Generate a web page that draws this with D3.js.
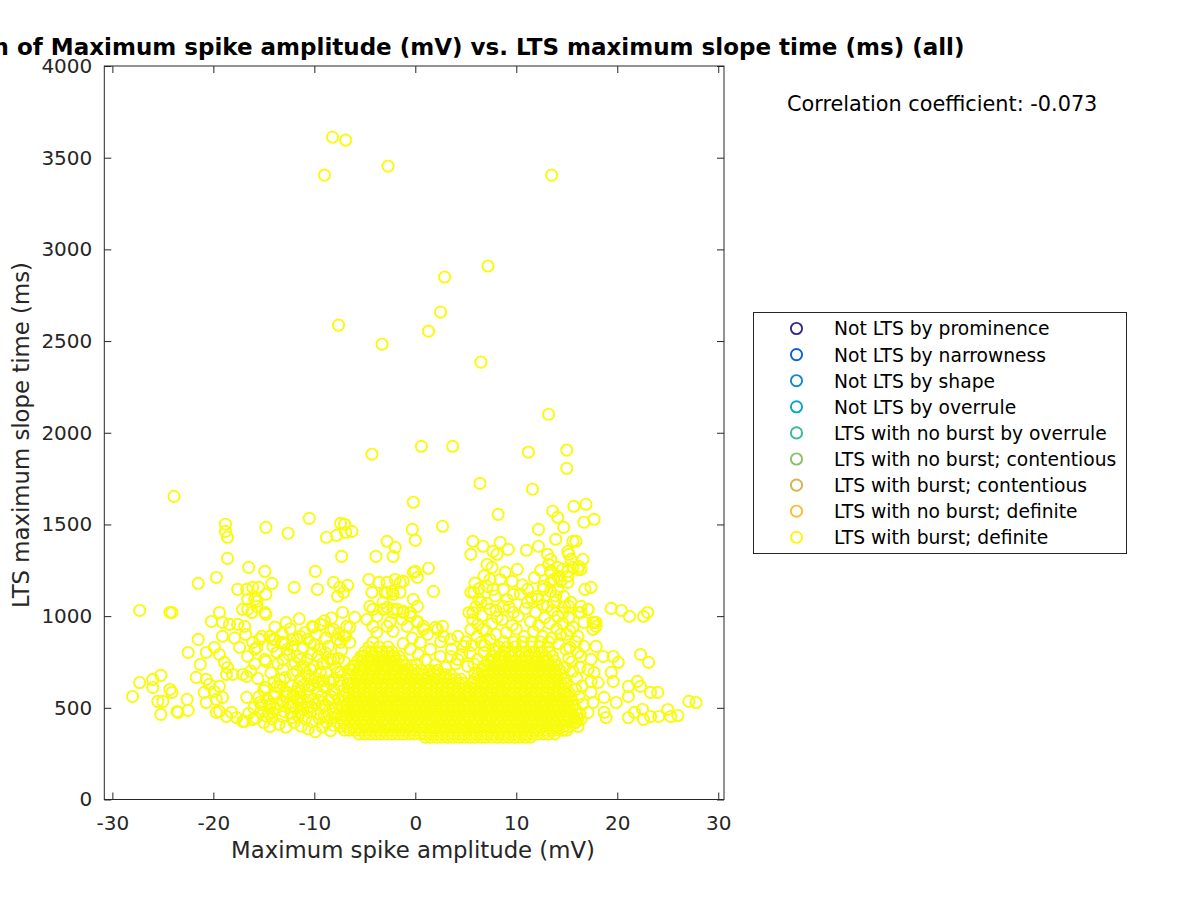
<!DOCTYPE html>
<html><head><meta charset="utf-8">
<script src="https://cdn.jsdelivr.net/npm/d3@7"></script>
<style>
body{margin:0;background:#fff}
text{font-family:"DejaVu Sans",sans-serif;fill:#262626}
</style></head>
<body><svg id="chart" width="1200" height="900"></svg>
<script>
// ---------- data ----------
const categories = ["Not LTS by prominence","Not LTS by narrowness","Not LTS by shape","Not LTS by overrule",
  "LTS with no burst by overrule","LTS with no burst; contentious","LTS with burst; contentious",
  "LTS with no burst; definite","LTS with burst; definite"];
const categoryColors = ["#352a87","#0b5fdc","#1485d4","#06a7c6","#38b99e","#8cbf6c","#d4b450","#fbbd36","#f9fb0e"];
const xTicks = [-30,-20,-10,0,10,20,30];
const yTicks = [0,500,1000,1500,2000,2500,3000,3500,4000];
const correlationText = "Correlation coefficient: -0.073";

// individually read points [amplitude (mV), LTS max slope time (ms)]
const scatterPoints = [
[-8.2,3612],[-6.9,3596],[-9.0,3405],[-2.7,3454],[13.5,3405],
[7.2,2909],[2.9,2849],[-7.6,2587],[2.5,2658],[1.3,2554],[-3.3,2483],[6.5,2385],
[13.2,2101],[15.0,1905],[15.0,1806],[11.2,1894],[-4.3,1883],[0.6,1926],[3.7,1926],
[6.4,1724],[11.6,1692],[-23.9,1653],[-0.2,1621],[15.7,1599],[16.9,1610],[16.7,1512],[17.7,1528],
[-10.5,1533],[-18.8,1501],[-18.8,1462],[-18.6,1430],[-14.8,1484],[-12.6,1452],[-8.8,1430],
[-7.4,1506],[-7.0,1501],[-7.8,1441],[-6.9,1457],[-6.3,1462],[2.7,1490],[8.2,1555],
[-0.3,1473],[0.0,1413],[-7.3,1326],[-3.9,1326],[-2.2,1326],[-2.8,1408],[-2.0,1375],
[-18.6,1315],[-16.5,1266],[-14.9,1244],[-21.5,1179],[-19.7,1211],
[-17.6,1146],[-16.7,1146],[-15.5,1157],[-14.2,1179],[-14.8,1119],[-12.0,1157],[-9.7,1146],[-9.9,1244],
[-27.3,1031],[-24.3,1020],[-24.1,1020],
[-8.1,1184],[-7.5,1157],[-6.7,1168],[-7.7,1108],[-7.1,1130],[-7.2,1020],
[-4.6,1200],[-3.6,1184],[-2.8,1184],[-2.0,1200],[-1.5,1184],[-2.2,1119],[-2.8,1130],[-1.2,1190],[-1.5,1130],[-2.3,1135],
[-0.2,1091],[0.0,1244],[-0.2,1239],[1.3,1261],[0.2,1211],[1.8,1135],
[-4.2,1037],[-3.2,1037],[-1.8,1037],[-4.3,1130],[-3.0,1130],[-2.8,1048],[-2.2,1020],[-1.2,1026],[-0.5,999],[0.2,971],[0.8,944],[2.0,939],[2.7,944],
[-16.6,1091],[-15.9,1091],[-17.1,1037],[-16.6,1037],[-15.7,1053],[-14.9,1020],[-14.8,1010],
[-20.2,971],[-19.4,1020],[-19.1,966],[-18.4,955],[-17.6,955],[-16.9,944],[-19.1,890],[-21.5,873],[-22.5,802],[-21.3,737],[-21.7,666],
[-20.7,802],[-19.9,829],[-19.4,791],[-18.9,748],[-18.6,720],[-18.7,682],[-18.1,682],[-17.1,682],
[-27.3,638],[-26.0,655],[-25.2,677],[-26.0,611],[-28.0,562],
[-24.3,600],[-24.1,584],[-25.5,535],[-25.0,535],[-25.2,464],[-23.6,480],[-23.5,475],[-22.6,546],[-22.5,486],
[-20.7,655],[-20.4,628],[-20.9,584],[-20.7,529],[-19.9,589],[-19.4,617],[-19.7,546],[-19.1,557],[-19.4,480],[-18.7,453],[-19.7,475],[-18.2,475],[-17.7,447],[-16.9,426],[-16.7,557],[-16.7,671],
[-16.1,857],[-15.9,819],[-15.2,890],[-14.4,890],[-14.1,873],
[-14.8,753],[-14.8,611],[-15.2,518],[-14.4,518],
[-16.1,437],[-17.1,426],[-14.7,453],[-14.4,398],
[-13.7,802],[-13.2,857],[-12.7,819],[-12.1,873],[-11.4,890],[-10.7,873],[-10.1,939],[-9.4,955],
[-11.4,764],[-11.1,726],[-10.6,671],[-10.1,726],[-9.6,780],[-8.7,748],[-8.1,764],[-7.4,857],[-7.1,890],[-6.5,857],[-6.8,944],[-6.0,993],[-8.1,928],
[-13.4,617],[-12.7,562],[-12.1,508],[-14.1,475],[-13.2,453],[-12.2,447],[-11.4,475],[-10.7,502],[-10.1,546],[-11.4,589],
[-8.4,638],[-7.7,693],[-7.0,748],[-6.2,726],[-5.2,780],[-4.2,857],[-3.8,911],[-2.8,944],[-2.2,917],[-1.3,982],[-0.5,1020],[0.2,1053],
[5.7,1408],[6.7,1381],[8.4,1402],[9.2,1364],[7.7,1353],[8.1,1337],[5.5,1337],
[11.0,1359],[12.2,1473],[12.2,1381],[13.9,1419],[13.6,1572],[14.1,1539],[14.7,1484],[15.6,1408],[15.9,1408],[15.1,1353],[15.2,1337],
[7.1,1282],[7.6,1266],[10.1,1255],[7.4,1200],[8.4,1200],
[13.1,1337],[13.4,1310],[13.2,1282],[13.4,1244],[14.1,1217],[13.7,1200],[14.6,1255],[15.1,1244],[15.6,1266],[16.2,1271],[16.6,1310],[16.4,1255],[15.4,1310],[17.4,1157],
[5.8,1130],[6.3,1091],[5.3,1020],[7.1,1162],[7.7,1146],[8.7,1146],[9.7,1119],[11.1,1146],
[12.1,1108],[12.7,1162],[13.4,1135],[14.1,1146],[13.7,1075],[14.7,1108],[15.2,1053],[16.4,1053],[17.1,1037],[17.7,966],[14.6,1020],
[13.4,1184],[14.4,1190],[15.1,1184],
[19.4,1042],[20.4,1031],[21.2,999],[22.6,999],[23.0,1020],[22.3,791],[23.1,748],
[17.9,966],[17.6,928],[17.9,835],[18.6,780],[19.6,780],[20.1,748],[19.4,693],[19.6,644],[21.1,617],[22.0,644],[22.3,617],[23.3,584],[24.0,584],[21.1,562],[18.7,557],[19.9,529],[18.7,475],[18.9,447],[21.1,447],[21.7,475],[22.5,491],[22.6,437],[23.3,453],[24.1,453],[25.0,491],[25.3,453],[26.0,458],[27.1,535],[27.8,529],
[16.4,1020],[17.1,1037],[17.6,966],[17.9,944],[16.7,966],[16.1,890],[16.7,835],[16.4,780],[17.4,764],[17.1,709],[17.7,693],[17.4,644],[18.1,638],[17.4,584],[17.6,529],[17.1,475],[16.4,437],[16.1,398],
[-16.1,1157],[-15.7,1080],[-16.2,1020],
[5.5,1130],[5.7,1020],[6.5,1075],[7.4,1037],[6.2,955],[6.7,928],[8.1,993],[8.7,1053],[9.7,1020],[11.1,1075],[12.1,1091],[12.7,1146],[13.4,1239],[14.1,1266],[15.1,1217],[16.1,1255],[16.8,1146],[13.1,1053],[14.1,999],[15.4,1075],[16.2,1020],
[-15.4,873],[-14.4,890],[-13.9,873],[-15.7,829],[-14.9,764],[-13.7,802],[-13.1,764],[-12.2,835],[-11.7,873],[-10.9,911],[-10.2,944],[-9.4,955],[-8.4,917],[-7.7,873],[-6.9,890],[-6.5,939],[-10.4,857],[-9.4,819],[-11.7,780],[-10.7,764],[-13.1,709],[-12.1,682],[-13.4,655],[-11.4,655],[-13.7,617],[-12.7,584],[-14.9,611],[-15.4,529],[-14.4,508],[-13.1,529],[-11.7,546],[-10.7,529],[-9.7,584],[-9.1,617],[-8.1,655],[-7.4,693],[-6.5,709],[-9.4,693],[-8.4,764],[-10.4,709],
[-4.5,1053],[-3.2,1075],[-2.2,1037],[-1.2,1020],[-3.8,999],[-2.5,966],[-0.8,944],[0.2,966],[0.8,928],[2.2,928],[2.8,890],[3.5,873],[4.2,890],[4.8,835],[-4.8,982],[-4.2,944],
[0.5,857],[1.5,819],[2.5,780],[3.5,780],[4.2,764],[5.2,726],[6.2,764],[6.8,802],[6.5,857],[5.5,928],[7.4,873],
[-16.5,470],[-15.8,445],[-15.0,420],[-14.2,440],[-13.5,410],[-12.8,395],[-12.0,420],[-11.3,400],[-10.6,385],[-9.9,370],[-9.2,395],[-8.4,375],
[-16.0,500],[-15.3,480],[-14.5,470],[-13.8,495],[-13.0,480],[-12.3,470],[-11.6,455],[-10.9,440],[-10.2,425],[-9.5,440],[-8.8,420],[-8.1,405],
[-15.5,560],[-14.7,545],[-14.0,560],[-13.2,540],[-12.5,525],[-11.8,500],[-11.1,490],[-10.4,475],[-9.7,470],[-9.0,455],[-8.3,445],
[-12.9,590],[-12.1,570],[-11.4,560],[-10.6,600],[-9.9,520],[-9.2,510],[-8.5,490],[-7.9,470],[-8.6,540],[-9.3,565],[-8.0,580],[-8.8,610],[-9.6,640],[-10.3,660],[-11.0,625],
[15.8,420],[16.3,470],[16.6,520],[16.2,560],[15.9,600],[16.5,620],[16.0,660],[15.6,700],[16.3,720],[15.5,750],[16.1,800],[15.3,830],[15.9,860],[15.0,900],[15.6,940],[14.6,960],[15.2,990],
[1.0,760],[2.0,735],[3.0,720],[4.0,740],[0.3,790],[1.8,700],[3.6,820],[4.6,790],[5.0,860],[2.5,860],[1.2,900],[-0.3,880],[-1.2,850],[-0.5,820],[0.2,740],[5.4,800],[5.8,740],[5.9,690],
[-13.9,940],[-12.8,965],[-11.5,985],[-9.0,975],[-8.3,990],[-13.2,905],[-12.4,930],[-9.8,900],[-8.9,880],[-7.6,905],[-14.1,835],[-12.9,850],[-11.1,830],[-10.0,845],[-8.6,835],[-7.3,815],
[-13.6,740],[-12.5,790],[-11.9,745],[-10.3,795],[-9.2,740],[-8.9,800],[-7.6,770],[-14.3,690],[-12.9,665],[-11.7,700],[-10.8,690],[-9.9,660],[-8.8,690],[-7.9,720],[-7.5,650],
[-14.0,640],[-12.2,620],[-11.6,615],[-10.2,625],[-9.1,650],[-8.1,600],[-7.4,620],[-13.8,580],[-11.8,590],[-10.6,560],[-9.5,540],[-8.3,560],[-7.6,545],
[-13.7,520],[-12.4,505],[-11.3,520],[-10.3,505],[-8.9,515],[-7.9,500],[-15.0,595],[-15.6,660],[-16.3,700],[-15.9,740],[-16.6,780],[-17.4,830],[-17.9,880],[-16.8,900],
[5.9,1180],[6.8,1220],[8.9,1240],[9.6,1190],[10.6,1170],[11.8,1210],[12.4,1250],[6.3,1150],[7.9,1110],[9.1,1090],[10.4,1120],[11.5,1100],[12.6,1060],[13.9,1110],
[6.0,1050],[7.1,1070],[8.0,1030],[9.3,1050],[10.2,1000],[10.9,1040],[11.9,1020],[12.8,990],[13.6,1030],[14.8,1050],
[5.7,980],[6.6,1000],[7.6,960],[8.6,980],[9.6,950],[11.4,970],[12.2,950],[13.3,960],[14.0,930],[15.3,920],
[6.1,890],[7.0,920],[8.0,900],[9.0,910],[10.0,930],[10.8,890],[11.7,915],[12.6,890],[13.5,880],[14.4,900],
[5.6,840],[6.9,840],[7.7,820],[14.2,850],[14.9,820],[15.2,770],[14.8,720]
];

// saturated core of the cloud, read row by row: [LTS max slope time (ms), amplitudes (mV)]
const denseRows = [
[340,[1.0,1.5,2.1,2.6,3.2,3.7,4.3,4.8,5.4,5.9,6.5,7.0,7.6,8.1,8.7,9.2,9.8,10.3,10.9,11.4]],
[358,[-5.6,-5.0,-4.5,-3.9,-3.4,-2.8,-2.3,-1.7,-1.2,-0.6,-0.1,0.5,1.0,1.6,2.2,2.7,3.3,3.8,4.4,4.9,5.5,6.0,6.6,7.1,7.7,8.3,8.8,9.4,9.9,10.5,11.0,11.6,12.1,12.7,13.2,13.8]],
[378,[-7.0,-6.5,-5.9,-5.4,-4.8,-4.3,-3.7,-3.2,-2.6,-2.1,-1.5,-1.0,-0.4,0.1,0.7,1.3,1.8,2.4,2.9,3.5,4.0,4.6,5.1,5.7,6.2,6.8,7.4,7.9,8.5,9.0,9.6,10.1,10.7,11.2,11.8,12.3,12.9,13.5,14.0,14.6,15.0]],
[398,[-7.4,-6.8,-6.2,-5.7,-5.1,-4.6,-4.0,-3.5,-2.9,-2.4,-1.8,-1.3,-0.7,-0.2,0.4,0.9,1.5,2.0,2.6,3.1,3.7,4.2,4.8,5.3,5.9,6.4,7.0,7.5,8.1,8.6,9.2,9.7,10.3,10.8,11.4,11.9,12.5,13.0,13.6,14.1,14.7,15.2]],
[420,[-7.7,-7.1,-6.5,-6.0,-5.4,-4.9,-4.3,-3.8,-3.2,-2.7,-2.1,-1.6,-1.0,-0.5,0.1,0.6,1.2,1.7,2.3,2.8,3.4,3.9,4.5,5.0,5.6,6.1,6.7,7.2,7.8,8.3,8.9,9.4,10.0,10.5,11.1,11.6,12.2,12.7,13.3,13.8,14.4,14.9,15.5,15.9]],
[442,[-7.4,-6.8,-6.3,-5.7,-5.2,-4.6,-4.1,-3.5,-3.0,-2.4,-1.9,-1.3,-0.8,-0.2,0.3,0.9,1.4,2.0,2.5,3.1,3.6,4.2,4.7,5.3,5.8,6.4,6.9,7.5,8.0,8.6,9.1,9.7,10.2,10.8,11.3,11.9,12.4,13.0,13.5,14.1,14.6,15.2,15.7,16.1]],
[465,[-7.6,-7.0,-6.5,-5.9,-5.4,-4.8,-4.3,-3.7,-3.2,-2.6,-2.1,-1.5,-1.0,-0.4,0.1,0.7,1.2,1.8,2.3,2.9,3.4,4.0,4.5,5.1,5.6,6.2,6.7,7.3,7.8,8.4,8.9,9.5,10.0,10.6,11.1,11.7,12.2,12.8,13.3,13.9,14.4,15.0,15.5,16.0]],
[488,[-7.2,-6.7,-6.1,-5.6,-5.0,-4.5,-3.9,-3.4,-2.8,-2.3,-1.7,-1.2,-0.6,-0.1,0.5,1.0,1.6,2.1,2.7,3.2,3.8,4.3,4.9,5.4,6.0,6.5,7.1,7.6,8.2,8.7,9.3,9.8,10.4,10.9,11.5,12.0,12.6,13.1,13.7,14.2,14.8,15.3,15.9]],
[512,[-7.3,-6.8,-6.2,-5.7,-5.1,-4.6,-4.0,-3.5,-2.9,-2.4,-1.8,-1.3,-0.7,-0.2,0.4,0.9,1.5,2.0,2.6,3.1,3.7,4.2,4.8,5.3,5.9,6.4,7.0,7.5,8.1,8.6,9.2,9.7,10.3,10.8,11.4,11.9,12.5,13.0,13.6,14.1,14.7,15.2,15.7]],
[536,[-7.0,-6.4,-5.9,-5.3,-4.8,-4.2,-3.7,-3.1,-2.6,-2.0,-1.5,-0.9,-0.4,0.2,0.7,1.3,1.8,2.4,2.9,3.5,4.0,4.6,5.1,5.7,6.2,6.8,7.3,7.9,8.4,9.0,9.5,10.1,10.6,11.2,11.7,12.3,12.8,13.4,13.9,14.5,15.0,15.5]],
[560,[-7.1,-6.6,-6.0,-5.5,-4.9,-4.4,-3.8,-3.3,-2.7,-2.2,-1.6,-1.1,-0.5,0.0,0.6,1.1,1.7,2.2,2.8,3.3,3.9,4.4,5.0,5.5,6.1,6.6,7.2,7.7,8.3,8.8,9.4,9.9,10.5,11.0,11.6,12.1,12.7,13.2,13.8,14.3,14.9,15.4]],
[584,[-6.8,-6.2,-5.7,-5.1,-4.6,-4.0,-3.5,-2.9,-2.4,-1.8,-1.3,-0.7,-0.2,0.4,0.9,1.5,2.0,2.6,3.1,3.7,4.2,4.8,5.3,5.9,6.4,7.0,7.5,8.1,8.6,9.2,9.7,10.3,10.8,11.4,11.9,12.5,13.0,13.6,14.1,14.7,15.2]],
[608,[-6.6,-6.1,-5.5,-5.0,-4.4,-3.9,-3.3,-2.8,-2.2,-1.7,-1.1,-0.6,0.0,0.5,1.1,1.6,2.2,2.7,3.3,3.8,4.4,4.9,5.5,6.0,6.6,7.1,7.7,8.2,8.8,9.3,9.9,10.4,11.0,11.5,12.1,12.6,13.2,13.7,14.3,14.8]],
[632,[-6.7,-6.2,-5.6,-5.1,-4.5,-4.0,-3.4,-2.9,-2.3,-1.8,-1.2,-0.7,-0.1,0.4,1.0,1.5,2.1,2.6,3.2,3.7,4.3,4.8,5.6,6.1,6.7,7.2,7.8,8.3,8.9,9.4,10.0,10.5,11.1,11.6,12.2,12.7,13.3,13.8,14.4,14.9]],
[656,[-6.5,-5.9,-5.4,-4.8,-4.3,-3.7,-3.2,-2.6,-2.1,-1.5,-1.0,-0.4,0.1,0.7,1.2,1.8,2.3,2.9,3.4,4.0,4.5,5.9,6.4,7.0,7.5,8.1,8.6,9.2,9.7,10.3,10.8,11.4,11.9,12.5,13.0,13.6,14.1,14.7]],
[680,[-6.4,-5.8,-5.3,-4.7,-4.2,-3.6,-3.1,-2.5,-2.0,-1.4,-0.9,-0.3,0.2,0.8,1.3,1.9,2.4,3.0,3.5,6.2,6.7,7.3,7.8,8.4,8.9,9.5,10.0,10.6,11.1,11.7,12.2,12.8,13.3,13.9,14.4]],
[705,[-6.2,-5.6,-5.1,-4.5,-4.0,-3.4,-2.9,-2.3,-1.8,-1.2,-0.7,-0.1,0.6,1.4,2.2,6.6,7.1,7.7,8.2,8.8,9.3,9.9,10.4,11.0,11.5,12.1,12.6,13.2,13.7,14.3]],
[730,[-6.0,-5.4,-4.9,-4.3,-3.8,-3.2,-2.7,-2.1,-1.6,-1.0,-0.4,6.9,7.4,8.0,8.5,9.1,9.6,10.2,10.7,11.3,11.8,12.4,12.9,13.5,14.0]],
[755,[-5.7,-5.2,-4.6,-4.1,-3.5,-3.0,-2.4,-1.9,-1.3,7.2,7.7,8.3,8.8,9.4,9.9,10.5,11.0,11.6,12.1,12.7,13.2,13.8]],
[780,[-5.4,-4.8,-4.3,-3.7,-3.2,-2.6,-2.1,-1.6,7.6,8.3,8.9,9.6,10.3,10.9,11.6,12.2,12.9,13.6]],
[805,[-5.0,-4.4,-3.9,-3.3,-2.8,-2.3,8.0,8.8,9.5,10.3,11.0,11.8,12.5,13.3]],
[832,[-4.6,-3.6,-2.7,8.3,9.1,9.9,10.7,11.5,12.3,13.1]],
[860,[8.8,9.7,10.6,11.5,12.4,13.2]]
];

// ---------- layout ----------
const svg = d3.select("#chart");
const plot = {left:104.3, right:724, top:66, bottom:799.5};
const x = d3.scaleLinear().domain([-30.8, 30.57]).range([plot.left, plot.right]);
const y = d3.scaleLinear().domain([0, 4000]).range([plot.bottom, plot.top]);
const ink = "#262626";

const allPoints = scatterPoints.concat(denseRows.flatMap(([t, amps]) => amps.map(a => [a, t])));

svg.append("clipPath").attr("id","clip").append("rect")
  .attr("x",plot.left).attr("y",plot.top).attr("width",plot.right-plot.left).attr("height",plot.bottom-plot.top);
svg.append("g").attr("clip-path","url(#clip)")
  .selectAll("circle").data(allPoints).join("circle")
  .attr("cx", d => x(d[0])).attr("cy", d => y(d[1])).attr("r", 5.6)
  .attr("fill","none").attr("stroke", categoryColors[8]).attr("stroke-width", 1.9);

// axes
const tick = 7;
const fmt = d => String(d);
const gx = svg.append("g").attr("transform",`translate(0,${plot.bottom})`)
  .call(d3.axisBottom(x).tickValues(xTicks).tickFormat(fmt).tickSizeInner(-tick).tickSizeOuter(0).tickPadding(16));
const gxt = svg.append("g").attr("transform",`translate(0,${plot.top})`)
  .call(d3.axisTop(x).tickValues(xTicks).tickSizeInner(-tick).tickSizeOuter(0).tickFormat(""));
const gy = svg.append("g").attr("transform",`translate(${plot.left},0)`)
  .call(d3.axisLeft(y).tickValues(yTicks).tickFormat(fmt).tickSizeInner(-tick).tickSizeOuter(0).tickPadding(12));
const gyr = svg.append("g").attr("transform",`translate(${plot.right},0)`)
  .call(d3.axisRight(y).tickValues(yTicks).tickSizeInner(-tick).tickSizeOuter(0).tickFormat(""));
[gx,gxt,gy,gyr].forEach(g => {
  g.select(".domain").remove();
  g.selectAll("line").attr("stroke", ink).attr("stroke-width",1);
  g.selectAll("text").attr("fill", ink).style("font-size","20px").style("font-family","DejaVu Sans");
});
svg.append("rect").attr("x",plot.left).attr("y",plot.top)
  .attr("width",plot.right-plot.left).attr("height",plot.bottom-plot.top)
  .attr("fill","none").attr("stroke",ink).attr("stroke-width",1);

// labels
svg.append("text").attr("x",413).attr("y",858).attr("text-anchor","middle")
  .style("font-size","22.8px").text("Maximum spike amplitude (mV)");
svg.append("text").attr("transform","translate(29,435) rotate(-90)").attr("text-anchor","middle")
  .style("font-size","22.8px").text("LTS maximum slope time (ms)");
svg.append("text").attr("x",414).attr("y",55).attr("text-anchor","middle")
  .style("font-size","23px").style("font-weight","bold").style("fill","#000")
  .text("Correlation of Maximum spike amplitude (mV) vs. LTS maximum slope time (ms) (all)");
svg.append("text").attr("x",787).attr("y",111).style("font-size","20.8px").style("fill","#000")
  .text(correlationText);

// legend
const lg = svg.append("g");
lg.append("rect").attr("x",753.5).attr("y",312.5).attr("width",373).attr("height",241)
  .attr("fill","#fff").attr("stroke",ink).attr("stroke-width",1);
const rows = lg.selectAll("g.item").data(categories).join("g").attr("class","item")
  .attr("transform",(d,i)=>`translate(0,${328.5 + i*26.1})`);
rows.append("circle").attr("cx",796.5).attr("cy",0).attr("r",5.6).attr("fill","none")
  .attr("stroke",(d,i)=>categoryColors[i]).attr("stroke-width",1.9);
rows.append("text").attr("x",834).attr("y",0).attr("dy","0.37em").style("font-size","18.7px")
  .style("fill","#000").text(d=>d);
</script></body></html>
